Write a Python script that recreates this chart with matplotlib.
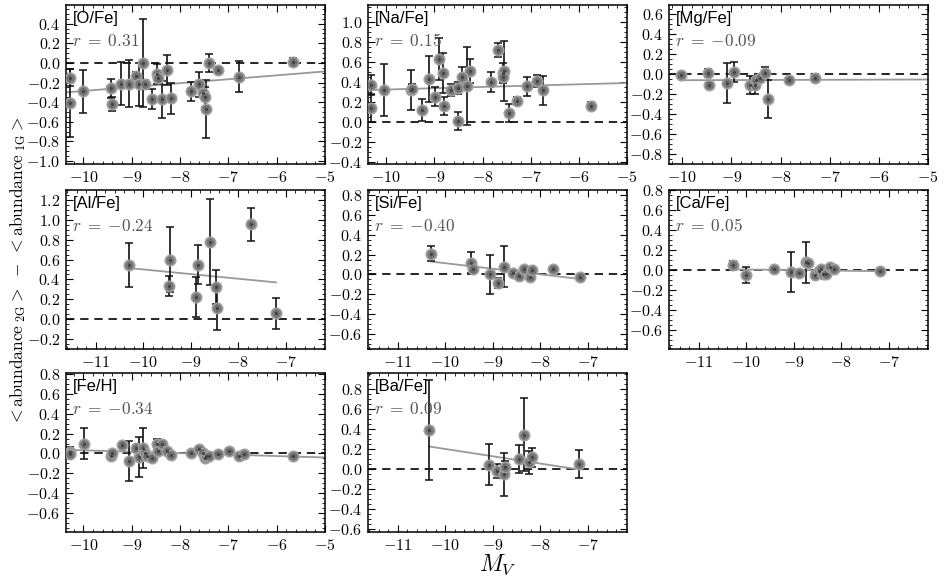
import numpy as np
import matplotlib
matplotlib.use("Agg")
import matplotlib.pyplot as plt
from matplotlib.ticker import MultipleLocator, AutoMinorLocator, FuncFormatter

plt.rcParams['mathtext.fontset'] = 'cm'

# ---------------- data ----------------
o_x = [-10.28, -10.28, -10.0, -9.43, -9.41, -9.22, -9.05, -8.92, -8.85, -8.77, -8.73, -8.57, -8.48,
       -8.46, -8.37, -8.26, -8.19, -7.77, -7.61, -7.52, -7.48, -7.47, -7.40, -7.22, -6.78, -5.66]
o_y = [-0.15, -0.41, -0.29, -0.26, -0.42, -0.21, -0.21, -0.135, -0.22, 0.0, -0.22, -0.37, -0.11,
       -0.155, -0.37, -0.07, -0.36, -0.29, -0.22, -0.31, -0.35, -0.47, 0.0, -0.07, -0.14, 0.01]
o_e = [0.09, 0.35, 0.22, 0.10, 0.07, 0.22, 0.235, 0.04, 0.22, 0.45, 0.05, 0.10, 0.10,
       0.03, 0.19, 0.155, 0.16, 0.10, 0.13, 0.04, 0.10, 0.30, 0.09, 0.03, 0.155, 0.04]

na_x = [-10.32, -10.32, -10.04, -9.48, -9.46, -9.26, -9.11, -8.99, -8.90, -8.82, -8.80, -8.65, -8.52, -8.51,
        -8.43, -8.32, -8.26, -7.83, -7.67, -7.58, -7.55, -7.57, -7.46, -7.29, -7.07, -6.86, -6.75, -5.74]
na_y = [0.37, 0.145, 0.32, 0.32, 0.33, 0.12, 0.43, 0.255, 0.63, 0.49, 0.16, 0.32, 0.34, 0.015,
        0.45, 0.36, 0.51, 0.40, 0.72, 0.49, 0.51, 0.455, 0.095, 0.215, 0.36, 0.41, 0.32, 0.16]
na_e = [0.10, 0.14, 0.26, 0.20, 0.05, 0.11, 0.23, 0.095, 0.21, 0.20, 0.09, 0.06, 0.06, 0.09,
        0.10, 0.39, 0.12, 0.10, 0.075, 0.10, 0.30, 0.05, 0.09, 0.04, 0.095, 0.06, 0.145, 0.04]

mg_x = [-10.02, -9.48, -9.45, -9.10, -8.95, -8.63, -8.52, -8.50, -8.42, -8.32, -8.26, -7.83, -7.30]
mg_y = [-0.01, 0.01, -0.11, -0.09, 0.02, -0.105, -0.11, -0.06, -0.035, 0.015, -0.25, -0.06, -0.04]
mg_e = [0.02, 0.04, 0.02, 0.20, 0.10, 0.09, 0.09, 0.03, 0.02, 0.06, 0.19, 0.02, 0.02]

al_x = [-10.31, -9.45, -9.43, -8.90, -8.84, -8.59, -8.46, -8.45, -7.74, -7.20]
al_y = [0.545, 0.33, 0.60, 0.22, 0.55, 0.775, 0.32, 0.11, 0.955, 0.06]
al_e = [0.225, 0.10, 0.33, 0.20, 0.20, 0.435, 0.17, 0.22, 0.165, 0.155]

si_x = [-10.30, -9.45, -9.42, -9.05, -8.89, -8.76, -8.57, -8.44, -8.34, -8.22, -8.18, -7.72, -7.17]
si_y = [0.21, 0.12, 0.053, 0.0, -0.09, 0.08, 0.01, -0.017, 0.053, -0.023, 0.05, 0.057, -0.03]
si_e = [0.075, 0.11, 0.03, 0.20, 0.05, 0.205, 0.02, 0.02, 0.02, 0.02, 0.03, 0.02, 0.02]

ca_x = [-10.28, -10.0, -9.41, -9.05, -8.89, -8.74, -8.71, -8.56, -8.47, -8.42, -8.39, -8.31, -8.23, -8.16, -7.18]
ca_y = [0.047, -0.05, 0.013, -0.017, -0.03, 0.08, 0.07, -0.05, -0.01, 0.01, -0.043, -0.043, 0.027, 0.013, -0.007]
ca_e = [0.045, 0.08, 0.01, 0.20, 0.01, 0.205, 0.0, 0.03, 0.03, 0.02, 0.02, 0.02, 0.02, 0.01, 0.01]

fe_x = [-10.28, -10.28, -9.99, -9.43, -9.41, -9.21, -9.05, -8.92, -8.85, -8.77, -8.73, -8.68, -8.57, -8.48,
        -8.46, -8.37, -8.26, -8.19, -7.77, -7.61, -7.52, -7.48, -7.47, -7.40, -7.22, -6.99, -6.79, -6.68, -5.66]
fe_y = [0.015, -0.005, 0.10, -0.027, 0.01, 0.09, -0.075, 0.058, -0.037, 0.055, 0.0, -0.024, -0.047, 0.10,
        0.027, 0.095, 0.027, -0.017, 0.007, 0.044, 0.0, -0.047, -0.03, -0.024, -0.007, 0.027, -0.027, -0.01, -0.027]
fe_e = [0.05, 0.02, 0.16, 0.02, 0.02, 0.02, 0.205, 0.03, 0.20, 0.20, 0.03, 0.02, 0.02, 0.05,
        0.02, 0.035, 0.02, 0.02, 0.01, 0.01, 0.01, 0.01, 0.01, 0.01, 0.01, 0.01, 0.01, 0.01, 0.01]

ba_x = [-10.34, -9.07, -8.91, -8.76, -8.74, -8.45, -8.35, -8.24, -8.18, -7.18]
ba_y = [0.387, 0.044, -0.024, -0.054, 0.017, 0.10, 0.343, 0.07, 0.118, 0.047]
ba_e = [0.50, 0.205, 0.07, 0.215, 0.06, 0.143, 0.365, 0.115, 0.095, 0.14]

labels = ['[O/Fe]', '[Na/Fe]', '[Mg/Fe]', '[Al/Fe]', '[Si/Fe]', '[Ca/Fe]', '[Fe/H]', '[Ba/Fe]']
r_values = [0.31, 0.15, -0.09, -0.24, -0.40, 0.05, -0.34, 0.09]
# regression lines: (x_start, y_start) -> (x_end, y_end)
fit_x0 = [-10.35, -10.35, -10.02, -10.31, -10.30, -10.28, -10.35, -10.34]
fit_x1 = [-5.0, -5.0, -5.0, -7.20, -7.17, -7.18, -5.0, -7.25]
fit_y0 = [-0.30, 0.32, -0.062, 0.515, 0.13, 0.007, 0.037, 0.225]
fit_y1 = [-0.087, 0.39, -0.055, 0.37, -0.045, -0.012, -0.04, 0.0]

xs = [o_x, na_x, mg_x, al_x, si_x, ca_x, fe_x, ba_x]
ys = [o_y, na_y, mg_y, al_y, si_y, ca_y, fe_y, ba_y]
es = [o_e, na_e, mg_e, al_e, si_e, ca_e, fe_e, ba_e]

xlims = [(-10.36, -5), (-10.38, -5), (-10.27, -5), (-11.63, -6.17), (-11.63, -6.17),
         (-11.63, -6.17), (-10.36, -5), (-11.63, -6.17)]
ylims = [(-1.03, 0.59), (-0.42, 1.17), (-0.9, 0.69), (-0.3, 1.3), (-0.75, 0.85),
         (-0.79, 0.8), (-0.79, 0.81), (-0.63, 0.96)]

# ---------------- layout ----------------
W, H = 948, 584
fig = plt.figure(figsize=(W / 100, H / 100), dpi=100)
col_left = [66, 368, 669]
row_top = [5, 190, 373]
ax_w, ax_h = 259, 159
positions = [(0, 0), (0, 1), (0, 2), (1, 0), (1, 1), (1, 2), (2, 0), (2, 1)]

yfmt = FuncFormatter(lambda v, p: r'$%.1f$' % (0.0 if abs(v) < 1e-9 else v))
xfmt = FuncFormatter(lambda v, p: r'$%d$' % int(round(v)))

for i, (r, c) in enumerate(positions):
    l = col_left[c] / W
    b = (H - row_top[r] - ax_h) / H
    ax = fig.add_axes([l, b, ax_w / W, ax_h / H])
    ax.set_xlim(*xlims[i])
    ax.set_ylim(*ylims[i])
    ax.xaxis.set_major_locator(MultipleLocator(1))
    ax.yaxis.set_major_locator(MultipleLocator(0.2))
    ax.xaxis.set_minor_locator(AutoMinorLocator(5))
    ax.yaxis.set_minor_locator(AutoMinorLocator(4))
    ax.xaxis.set_major_formatter(xfmt)
    ax.yaxis.set_major_formatter(yfmt)
    ax.tick_params(which='both', direction='in', top=True, right=True, labelsize=11.5, pad=4)
    ax.tick_params(which='major', length=5, width=0.8)
    ax.tick_params(which='minor', length=2.5, width=0.6)
    for s in ax.spines.values():
        s.set_linewidth(1.1)

    ax.axhline(0.0, color='black', ls=(0, (5, 3.5)), lw=1.2, zorder=1)
    ax.plot([fit_x0[i], fit_x1[i]], [fit_y0[i], fit_y1[i]], color='#999999', lw=1.3, zorder=2)
    ax.errorbar(xs[i], ys[i], yerr=es[i], fmt='none', ecolor='#111111', elinewidth=1.2,
                capsize=2.6, capthick=1.1, zorder=3)
    ax.plot(xs[i], ys[i], 'o', ms=7.4, mfc='#707070', mec='#a0a0a0', mew=1.3, alpha=0.95, zorder=4)
    ax.plot(xs[i], ys[i], 'o', ms=2.2, mfc='#404040', mec='none', zorder=5)

    ax.text(0.025, 0.965, labels[i], transform=ax.transAxes, ha='left', va='top',
            fontsize=12, family='Liberation Sans', color='black', zorder=6)
    rv = '%.2f' % abs(r_values[i])
    sign = '{-}' if r_values[i] < 0 else ''
    ax.text(0.025, 0.83, r'$r\;=\;%s%s$' % (sign, rv), transform=ax.transAxes,
            ha='left', va='top', fontsize=12.5, color='#555555', zorder=6)

fig.text(18 / W, 1 - 271 / H,
         r'$<\mathrm{abundance}_{\ \mathrm{2G}}>\ -\ <\mathrm{abundance}_{\ \mathrm{1G}}>$',
         rotation=90, ha='center', va='center', fontsize=12.5)
fig.text(498 / W, 1 - 565 / H, r'$M_V$', ha='center', va='center', fontsize=17)

fig.savefig('out.png', dpi=100)
